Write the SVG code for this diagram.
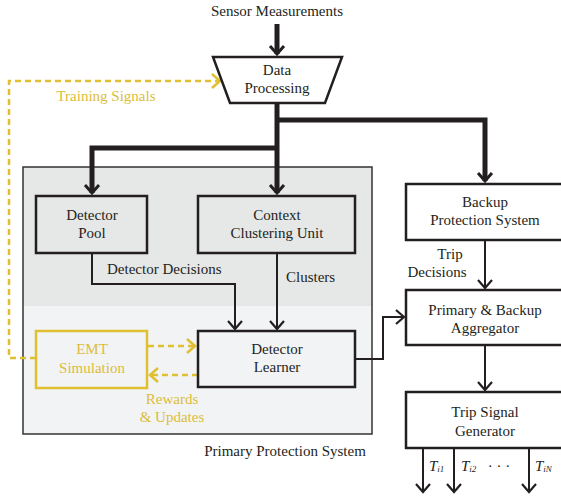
<svg xmlns="http://www.w3.org/2000/svg" width="561" height="502" viewBox="0 0 561 502" font-family="'Liberation Serif', 'Tinos', 'DejaVu Serif', serif">
<style>
text{font-family:'Liberation Serif','Tinos','DejaVu Serif',serif;font-size:15px;fill:#231f20}
.c{text-anchor:middle}
.y{fill:#dcbd3a}
.box{fill:#fff;stroke:#231f20;stroke-width:2.5}
.gbox{fill:none;stroke:#231f20;stroke-width:2.5}
.thick{fill:none;stroke:#231f20;stroke-width:5}
.thin{fill:none;stroke:#231f20;stroke-width:2}
.dash{fill:none;stroke:#e0c030;stroke-width:2.5;stroke-dasharray:6 4}
.it{font-style:italic}
</style>
<defs>
<marker id="ah" markerUnits="userSpaceOnUse" markerWidth="20" markerHeight="20" viewBox="-12 -10 14 20" refX="0" refY="0" orient="auto">
<path d="M-8,-7 L0,0 L-8,7" fill="none" stroke="#231f20" stroke-width="3"/>
</marker>
<marker id="at" markerUnits="userSpaceOnUse" markerWidth="20" markerHeight="20" viewBox="-12 -10 14 20" refX="0" refY="0" orient="auto">
<path d="M-8,-7 L0,0 L-8,7" fill="none" stroke="#231f20" stroke-width="2.2"/>
</marker>
<marker id="ay" markerUnits="userSpaceOnUse" markerWidth="20" markerHeight="20" viewBox="-12 -10 14 20" refX="0" refY="0" orient="auto">
<path d="M-8,-7 L0,0 L-8,7" fill="none" stroke="#e0c030" stroke-width="2.5"/>
</marker>
</defs>
<rect width="561" height="502" fill="#fff"/>

<g id="primary-protection-system">
<rect x="23" y="167" width="349" height="139" fill="#e6e7e7"/>
<rect x="23" y="306" width="349" height="128" fill="#f2f3f4"/>
<rect x="23" y="167" width="349" height="267" fill="none" stroke="#333" stroke-width="1.5"/>
<text x="285" y="456" class="c">Primary Protection System</text>
</g>

<text x="277" y="16" class="c">Sensor Measurements</text>

<g id="connectors">
<path class="thick" d="M277,24 V54" marker-end="url(#ah)"/>
<path class="thick" d="M277,103 V193" marker-end="url(#ah)"/>
<path class="thick" d="M277,120 H485 V181" marker-end="url(#ah)"/>
<path class="thick" d="M277,148 H92 V193" marker-end="url(#ah)"/>
<path class="thin" d="M92,253 V284 H235 V329" marker-end="url(#at)"/>
<path class="thin" d="M277,253 V329" marker-end="url(#at)"/>
<path class="thin" d="M355,359 H383 V317 H404" marker-end="url(#at)"/>
<path class="thin" d="M485,240 V288" marker-end="url(#at)"/>
<path class="thin" d="M485,345 V390" marker-end="url(#at)"/>
<path class="thin" d="M423,448 V492" marker-end="url(#at)"/>
<path class="thin" d="M454,448 V492" marker-end="url(#at)"/>
<path class="thin" d="M529,448 V492" marker-end="url(#at)"/>
<path class="dash" d="M36,358 H9 V81 H220" marker-end="url(#ay)"/>
<path class="dash" d="M148,346 H195" marker-end="url(#ay)"/>
<path class="dash" d="M198,375 H150" marker-end="url(#ay)"/>
<text x="106" y="101" class="c y">Training Signals</text>
<text x="107" y="274">Detector Decisions</text>
<text x="286" y="282">Clusters</text>
<text x="172" y="404" class="c y">Rewards</text>
<text x="172" y="422" class="c y">&amp; Updates</text>
<text x="450" y="259" class="c">Trip</text>
<text x="437" y="277" class="c">Decisions</text>
<text x="429" y="471" class="it">T<tspan font-size="9" dy="1">i1</tspan></text>
<text x="461" y="471" class="it">T<tspan font-size="9" dy="1">i2</tspan></text>
<text x="499" y="471" class="c">· · ·</text>
<text x="535" y="471" class="it">T<tspan font-size="9" dy="1">iN</tspan></text>
</g>

<g id="data-processing">
<path class="box" d="M213,57 H342 L325,103 H230 Z"/>
<text x="277" y="75" class="c">Data</text>
<text x="277" y="93" class="c">Processing</text>
</g>

<g id="detector-pool">
<rect x="36" y="196" width="111" height="57" class="gbox"/>
<text x="92" y="220" class="c">Detector</text>
<text x="92" y="238" class="c">Pool</text>
</g>

<g id="context-clustering-unit">
<rect x="198" y="196" width="157" height="57" class="gbox"/>
<text x="277" y="220" class="c">Context</text>
<text x="277" y="238" class="c">Clustering Unit</text>
</g>

<g id="emt-simulation">
<rect x="36" y="331" width="111" height="57" fill="none" stroke="#e0c030" stroke-width="2.5"/>
<text x="92" y="354" class="c y">EMT</text>
<text x="92" y="373" class="c y">Simulation</text>
</g>

<g id="detector-learner">
<rect x="198" y="331" width="157" height="56" class="gbox"/>
<text x="277" y="354" class="c">Detector</text>
<text x="277" y="372" class="c">Learner</text>
</g>

<g id="backup-protection-system">
<rect x="406" y="184" width="158" height="56" class="box"/>
<text x="485" y="207" class="c">Backup</text>
<text x="485" y="225" class="c">Protection System</text>
</g>

<g id="aggregator">
<rect x="406" y="290" width="158" height="55" class="box"/>
<text x="485" y="315" class="c">Primary &amp; Backup</text>
<text x="485" y="333" class="c">Aggregator</text>
</g>

<g id="trip-signal-generator">
<rect x="406" y="392" width="158" height="56" class="box"/>
<text x="485" y="417" class="c">Trip Signal</text>
<text x="485" y="436" class="c">Generator</text>
</g>
</svg>
